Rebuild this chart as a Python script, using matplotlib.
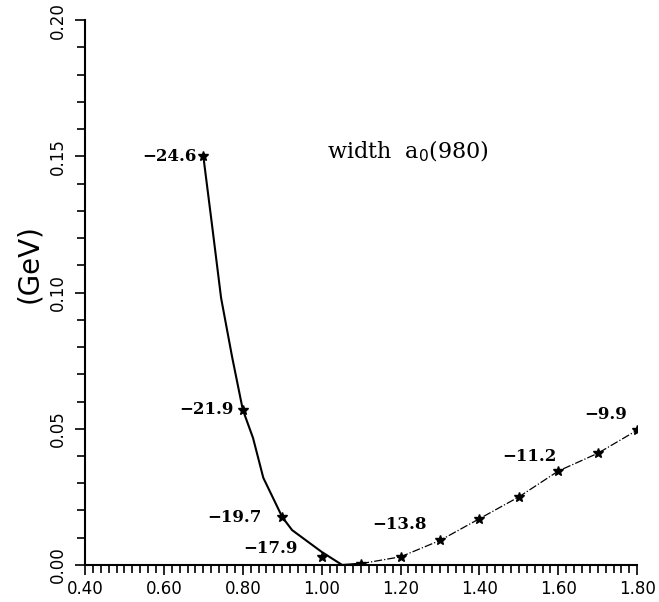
import matplotlib.pyplot as plt
from matplotlib.ticker import MultipleLocator

# star markers
mass = [0.70, 0.80, 0.90, 1.00, 1.10, 1.20, 1.30, 1.40, 1.50, 1.60, 1.70, 1.80]
width = [0.150, 0.057, 0.0176, 0.003, 0.0005, 0.003, 0.0090, 0.017, 0.025, 0.0345, 0.041, 0.0495]

# solid branch (left) and dash-dot branch (right)
left_x = [0.70, 0.722, 0.745, 0.773, 0.80, 0.826, 0.852, 0.90, 0.925, 1.00, 1.052, 1.10]
left_y = [0.150, 0.1248, 0.098, 0.0763, 0.057, 0.0466, 0.032, 0.0176, 0.0128, 0.0048, 0.0, 0.0005]
right_x = [1.10, 1.20, 1.30, 1.40, 1.50, 1.60, 1.70, 1.80]
right_y = [0.0005, 0.003, 0.0090, 0.017, 0.025, 0.0345, 0.041, 0.0495]

# point labels: text, x, y, alignment
labels = ["-24.6", "-21.9", "-19.7", "-17.9", "-13.8", "-11.2", "-9.9"]
label_x = [0.684, 0.776, 0.849, 0.938, 1.197, 1.527, 1.72]
label_y = [0.150, 0.057, 0.0176, 0.006, 0.015, 0.040, 0.0554]
label_ha = ["right", "right", "right", "right", "center", "center", "center"]

fig = plt.figure(figsize=(6.59, 6.02), dpi=100)
ax = fig.add_axes([0.129, 0.0615, 0.838, 0.905])

ax.plot(left_x, left_y, color="black", lw=1.5)
ax.plot(right_x, right_y, color="black", lw=0.9, linestyle="-.")
ax.plot(mass, width, linestyle="none", marker="*", color="black", markersize=7)

for t, x, y, ha in zip(labels, label_x, label_y, label_ha):
    ax.text(x, y, t.replace("-", "\u2212"), ha=ha, va="center", fontsize=12,
            fontweight="bold", family="DejaVu Serif")

ax.text(1.014, 0.152, "width  a$_0$(980)", ha="left", va="center", fontsize=16,
        family="DejaVu Serif")

ax.set_xlim(0.40, 1.80)
ax.set_ylim(0.0, 0.20)
ax.xaxis.set_major_locator(MultipleLocator(0.2))
ax.xaxis.set_minor_locator(MultipleLocator(0.02))
ax.yaxis.set_major_locator(MultipleLocator(0.05))
ax.yaxis.set_minor_locator(MultipleLocator(0.01))
ax.set_xticklabels(["%.2f" % v for v in ax.get_xticks()])
ax.set_yticks([0.0, 0.05, 0.10, 0.15, 0.20])
ax.set_yticklabels(["0.00", "0.05", "0.10", "0.15", "0.20"], rotation=90, va="center")

ax.tick_params(which="both", direction="out", width=1.2, labelsize=12)
ax.tick_params(which="major", length=7)
ax.tick_params(which="minor", length=6)
ax.tick_params(axis="y", pad=6)

for s in ["top", "right"]:
    ax.spines[s].set_visible(False)
for s in ["left", "bottom"]:
    ax.spines[s].set_linewidth(1.5)

ax.set_ylabel("(GeV)", fontsize=20)
ax.yaxis.set_label_coords(-0.075, 0.554)

fig.savefig("out.png", dpi=100)
